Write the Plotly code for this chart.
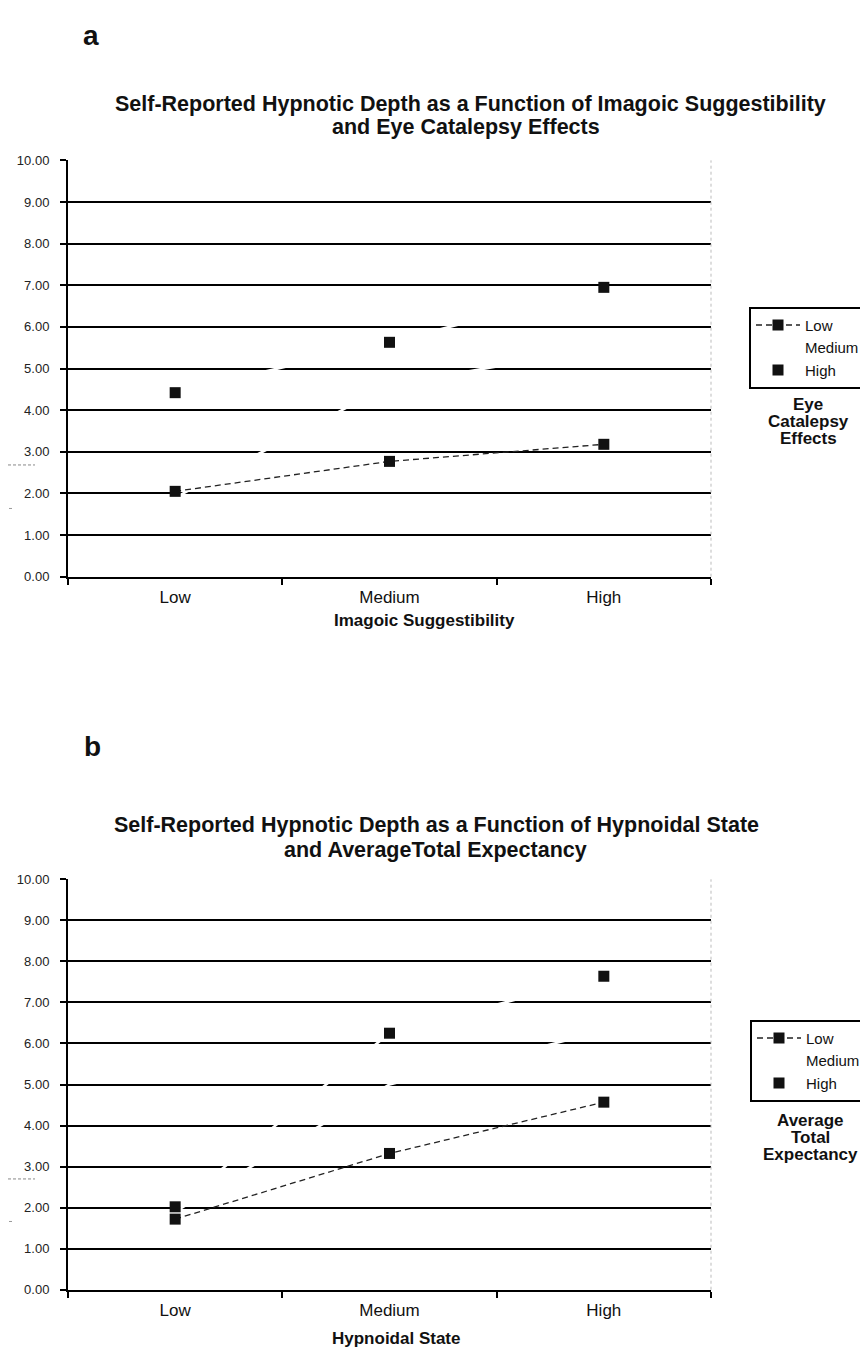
import plotly.graph_objects as go

# The page body has an 8px margin, so the figure is drawn 8px in from the top-left corner.
OFF = 8
FW, FH = 860, 1353

categories = ["Low", "Medium", "High"]
y_ticks = [0, 1, 2, 3, 4, 5, 6, 7, 8, 9, 10]
y_tick_labels = ["0.00", "1.00", "2.00", "3.00", "4.00", "5.00", "6.00", "7.00", "8.00", "9.00", "10.00"]
series_names = ["Low", "Medium", "High"]

# Panel a: Self-reported hypnotic depth by imagoic suggestibility, per eye catalepsy effect level
a_low = [2.05, 2.77, 3.18]
a_medium = [1.90, 4.60, 5.50]
a_high = [4.42, 5.63, 6.95]

# Panel b: Self-reported hypnotic depth by hypnoidal state, per average total expectancy level
b_low = [1.72, 3.32, 4.57]
b_medium = [1.90, 5.00, 6.30]
b_high = [2.02, 6.25, 7.64]

title_a = ["Self-Reported Hypnotic Depth as a Function of Imagoic Suggestibility",
           "and Eye Catalepsy Effects"]
title_b = ["Self-Reported Hypnotic Depth as a Function of Hypnoidal State",
           "and AverageTotal Expectancy"]
xtitle_a = "Imagoic Suggestibility"
xtitle_b = "Hypnoidal State"
legtitle_a = ["Eye", "Catalepsy", "Effects"]
legtitle_b = ["Average", "Total", "Expectancy"]

FONT = "Liberation Sans, Arial, Helvetica, sans-serif"


def fx(p):
    return (p - OFF) / FW


def fy(p):
    return 1 - (p - OFF) / FH


fig = go.Figure()


def add_panel(xa, ya, leg, low, med, high):
    # Medium: white line (drawn first so black markers stay on top)
    fig.add_trace(go.Scatter(x=categories, y=med, name=series_names[1], mode="lines",
                             line=dict(color="white", width=2.5), xaxis=xa, yaxis=ya,
                             legend=leg, legendrank=2, hoverinfo="skip"))
    fig.add_trace(go.Scatter(x=categories, y=low, name=series_names[0], mode="lines+markers",
                             line=dict(color="#222", width=1.3, dash="6px,4px"),
                             marker=dict(symbol="square", size=11, color="#111"),
                             xaxis=xa, yaxis=ya, legend=leg, legendrank=1))
    fig.add_trace(go.Scatter(x=categories, y=high, name=series_names[2], mode="lines+markers",
                             line=dict(color="white", width=2.5),
                             marker=dict(symbol="square", size=11, color="#111"),
                             xaxis=xa, yaxis=ya, legend=leg, legendrank=3))


add_panel("x", "y", "legend", a_low, a_medium, a_high)
add_panel("x2", "y2", "legend2", b_low, b_medium, b_high)

xdom = [fx(68), fx(711)]
xaxis_common = dict(type="category", categoryorder="array", categoryarray=categories,
                    range=[-0.5, 2.5], tickson="boundaries", ticks="outside", ticklen=6,
                    tickwidth=2, tickcolor="black", showline=True, linecolor="black",
                    linewidth=2, showgrid=False, zeroline=False, ticklabelstandoff=4,
                    tickfont=dict(family=FONT, size=17, color="#111"),
                    fixedrange=True)
yaxis_common = dict(range=[0, 10], tickmode="array", tickvals=y_ticks, ticktext=y_tick_labels,
                    ticks="outside", ticklen=6, tickwidth=1.5, tickcolor="black",
                    showline=True, linecolor="black", linewidth=2, showgrid=False, zeroline=False,
                    ticklabelstandoff=8,
                    minor=dict(tickmode="array", tickvals=y_ticks[1:-1], showgrid=True,
                               gridcolor="black", gridwidth=2, ticks=""),
                    tickfont=dict(family=FONT, size=13, color="#222"), fixedrange=True)

legend_common = dict(xanchor="left", yanchor="top", bordercolor="black", borderwidth=2,
                     bgcolor="white", font=dict(family=FONT, size=15, color="#111"),
                     tracegroupgap=0, itemwidth=44, entrywidth=62, entrywidthmode="pixels")

fig.update_layout(
    width=FW, height=FH, margin=dict(l=0, r=0, t=0, b=0),
    paper_bgcolor="white", plot_bgcolor="white",
    showlegend=True,
    xaxis=dict(domain=xdom, anchor="y", **xaxis_common),
    yaxis=dict(domain=[fy(576), fy(155)], anchor="x", **yaxis_common),
    xaxis2=dict(domain=xdom, anchor="y2", **xaxis_common),
    yaxis2=dict(domain=[fy(1297), fy(882)], anchor="x2", **yaxis_common),
    legend=dict(x=fx(749), y=fy(303), **legend_common),
    legend2=dict(x=fx(750), y=fy(1024), **legend_common),
)

ann = []


def text_ann(txt, x, y, size, bold=True):
    t = "<b>" + txt + "</b>" if bold else txt
    ann.append(dict(text=t, x=fx(x), y=fy(y), xref="paper", yref="paper", xanchor="center",
                    yanchor="middle", showarrow=False,
                    font=dict(family=FONT, size=size, color="#111")))


text_ann("a", 91, 29, 28)
text_ann("b", 92, 748, 28)
text_ann(title_a[0], 470, 98, 21.5)
text_ann(title_a[1], 466, 121, 21.5)
text_ann(title_b[0], 436, 827, 21.5)
text_ann(title_b[1], 435, 852, 21.5)
text_ann(xtitle_a, 424, 620, 17)
text_ann(xtitle_b, 396, 1346, 17)
for i, t in enumerate(legtitle_a):
    text_ann(t, 808, 402 + 17 * i, 17)
for i, t in enumerate(legtitle_b):
    text_ann(t, 810, 1126 + 17 * i, 17)
fig.update_layout(annotations=ann)

shapes = []
for xr, yr in (("x domain", "y domain"), ("x2 domain", "y2 domain")):
    shapes.append(dict(type="line", xref=xr, yref=yr, x0=1, x1=1, y0=0, y1=1,
                       line=dict(color="#bbb", width=1, dash="dot")))
# faint scan marks at the left margin
for yy in (463, 1185):
    shapes.append(dict(type="line", xref="paper", yref="paper", x0=fx(8), x1=fx(35),
                       y0=fy(yy), y1=fy(yy), line=dict(color="#888", width=1, dash="3px,2px")))
for yy in (507, 1228):
    shapes.append(dict(type="line", xref="paper", yref="paper", x0=fx(9), x1=fx(12),
                       y0=fy(yy), y1=fy(yy), line=dict(color="#999", width=1)))
fig.update_layout(shapes=shapes)

fig.write_html("out.html")
